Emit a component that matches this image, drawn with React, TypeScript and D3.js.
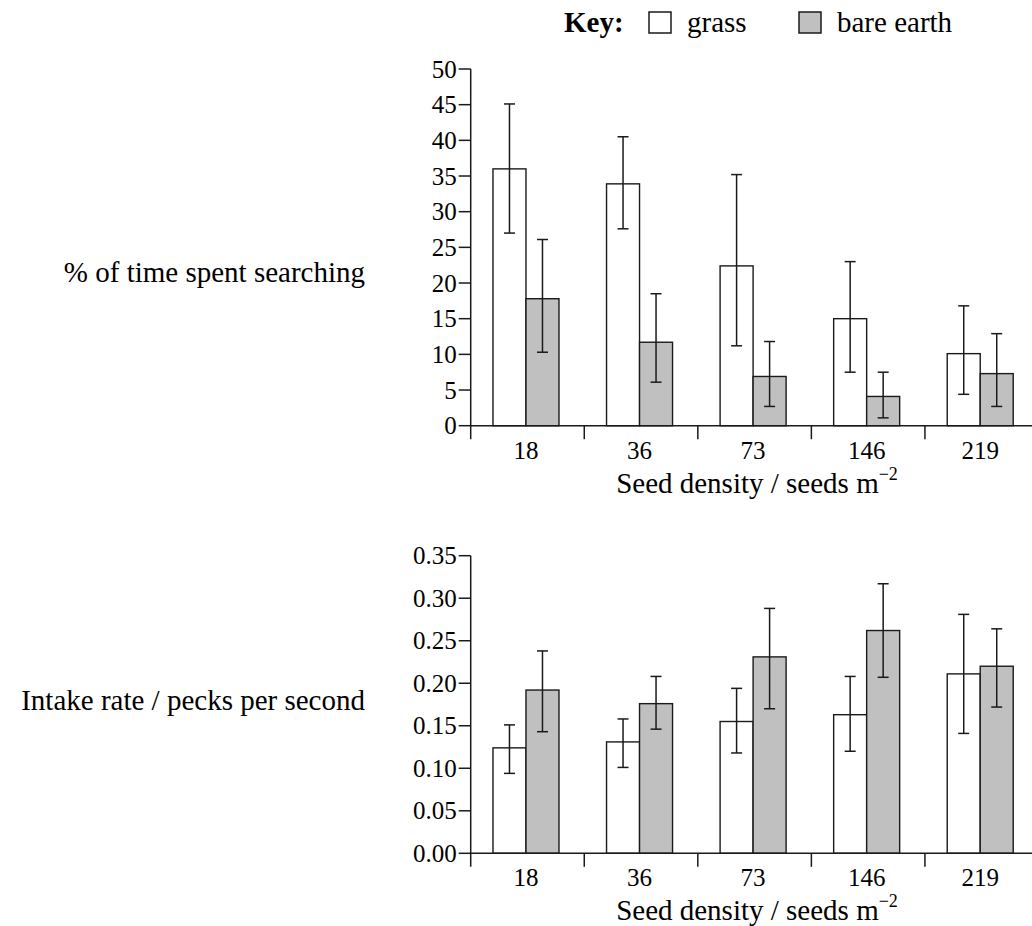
import React from 'react';
import * as d3 from 'd3';

// Seed density categories (seeds m^-2)
const categories = ['18', '36', '73', '146', '219'];

// % of time spent searching
const searchGrass = [36.0, 33.9, 22.4, 15.0, 10.1];
const searchGrassHi = [45.1, 40.5, 35.2, 23.0, 16.8];
const searchGrassLo = [27.0, 27.6, 11.2, 7.5, 4.4];
const searchBare = [17.8, 11.7, 6.9, 4.1, 7.3];
const searchBareHi = [26.1, 18.5, 11.8, 7.5, 12.9];
const searchBareLo = [10.3, 6.1, 2.7, 1.1, 2.7];
const searchTicks = [0, 5, 10, 15, 20, 25, 30, 35, 40, 45, 50];

// Intake rate / pecks per second
const intakeGrass = [0.124, 0.131, 0.155, 0.163, 0.211];
const intakeGrassHi = [0.151, 0.158, 0.194, 0.208, 0.281];
const intakeGrassLo = [0.094, 0.101, 0.118, 0.12, 0.141];
const intakeBare = [0.192, 0.176, 0.231, 0.262, 0.22];
const intakeBareHi = [0.238, 0.208, 0.288, 0.317, 0.264];
const intakeBareLo = [0.143, 0.146, 0.17, 0.207, 0.172];
const intakeTicks = [0, 0.05, 0.1, 0.15, 0.2, 0.25, 0.3, 0.35];

const FONT = '"Liberation Serif", "Times New Roman", serif';
const INK = '#1a1a1a';
const GREY = '#c0c0c0';

interface PanelProps {
  top: number;
  bottom: number;
  ticks: number[];
  fmt: (v: number) => string;
  series: { fill: string; values: number[]; hi: number[]; lo: number[] }[];
  ylabel: string;
  ylabelY: number;
}

function Panel({ top, bottom, ticks, fmt, series, ylabel, ylabelY }: PanelProps) {
  const left = 470.7;
  const y = d3.scaleLinear().domain([0, ticks[ticks.length - 1]]).range([bottom, top]);
  const x = d3.scaleBand().domain(categories).range([left, 1038.5]);
  const barW = 33;
  const sx = d3.scaleBand().domain(series.map((_, i) => String(i))).range([0, barW * series.length]);
  const groupOffset = x.bandwidth() / 2 - barW - 1.5;

  return (
    <g>
      {/* bars */}
      {series.map((s, si) =>
        categories.map((c, ci) => {
          const bx = (x(c) ?? 0) + groupOffset + (sx(String(si)) ?? 0);
          return (
            <rect key={`b${si}-${ci}`} x={bx} y={y(s.values[ci])} width={barW}
              height={y(0) - y(s.values[ci])} fill={s.fill} stroke={INK} strokeWidth={1.4} />
          );
        })
      )}
      {/* error bars */}
      {series.map((s, si) =>
        categories.map((c, ci) => {
          const cx = (x(c) ?? 0) + groupOffset + (sx(String(si)) ?? 0) + barW / 2;
          const yh = y(s.hi[ci]);
          const yl = y(s.lo[ci]);
          return (
            <g key={`e${si}-${ci}`} stroke={INK} strokeWidth={1.5}>
              <line x1={cx} x2={cx} y1={yh} y2={yl} />
              <line x1={cx - 5.5} x2={cx + 5.5} y1={yh} y2={yh} />
              <line x1={cx - 5.5} x2={cx + 5.5} y1={yl} y2={yl} />
            </g>
          );
        })
      )}
      {/* y axis */}
      <line x1={left} x2={left} y1={top} y2={bottom + 13.5} stroke={INK} strokeWidth={1.5} />
      {ticks.map(t => (
        <g key={`t${t}`}>
          <line x1={left - 12} x2={left} y1={y(t)} y2={y(t)} stroke={INK} strokeWidth={1.5} />
          <text x={left - 14} y={y(t)} dy="0.34em" textAnchor="end" fontSize={25} fontFamily={FONT} fill="#000">
            {fmt(t)}
          </text>
        </g>
      ))}
      {/* x axis */}
      <line x1={left} x2={1032} y1={bottom} y2={bottom} stroke={INK} strokeWidth={1.5} />
      {categories.slice(1).map(c => (
        <line key={`s${c}`} x1={x(c)} x2={x(c)} y1={bottom} y2={bottom + 13.5} stroke={INK} strokeWidth={1.5} />
      ))}
      {categories.map(c => (
        <text key={`l${c}`} x={(x(c) ?? 0) + x.bandwidth() / 2 - 1.5} y={bottom + 33} textAnchor="middle"
          fontSize={25} fontFamily={FONT} fill="#000">
          {c}
        </text>
      ))}
      <text x={757} y={bottom + 67} textAnchor="middle" fontSize={29} fontFamily={FONT} fill="#000">
        Seed density / seeds m
        <tspan fontSize={18} dy={-13}>−2</tspan>
      </text>
      {/* y title */}
      <text x={365} y={ylabelY} textAnchor="end" fontSize={29} fontFamily={FONT} fill="#000">
        {ylabel}
      </text>
    </g>
  );
}

export default function App() {
  return (
    <svg width={1032} height={926} style={{ position: 'absolute', left: 0, top: 0, background: '#fff' }}>
      <rect width={1032} height={926} fill="#fff" />
      {/* legend */}
      <g fontFamily={FONT} fontSize={29} fill="#000">
        <text x={564} y={32} fontWeight="bold">Key:</text>
        <rect x={649} y={12} width={22} height={21} fill="#fff" stroke={INK} strokeWidth={1.5} />
        <text x={687} y={32}>grass</text>
        <rect x={799} y={12} width={22} height={21} fill={GREY} stroke={INK} strokeWidth={1.5} />
        <text x={837} y={32}>bare earth</text>
      </g>
      <Panel
        top={69}
        bottom={425.7}
        ticks={searchTicks}
        fmt={d3.format('d')}
        series={[
          { fill: '#fff', values: searchGrass, hi: searchGrassHi, lo: searchGrassLo },
          { fill: GREY, values: searchBare, hi: searchBareHi, lo: searchBareLo },
        ]}
        ylabel="% of time spent searching"
        ylabelY={282}
      />
      <Panel
        top={555.7}
        bottom={853.3}
        ticks={intakeTicks}
        fmt={d3.format('.2f')}
        series={[
          { fill: '#fff', values: intakeGrass, hi: intakeGrassHi, lo: intakeGrassLo },
          { fill: GREY, values: intakeBare, hi: intakeBareHi, lo: intakeBareLo },
        ]}
        ylabel="Intake rate / pecks per second"
        ylabelY={710}
      />
    </svg>
  );
}
